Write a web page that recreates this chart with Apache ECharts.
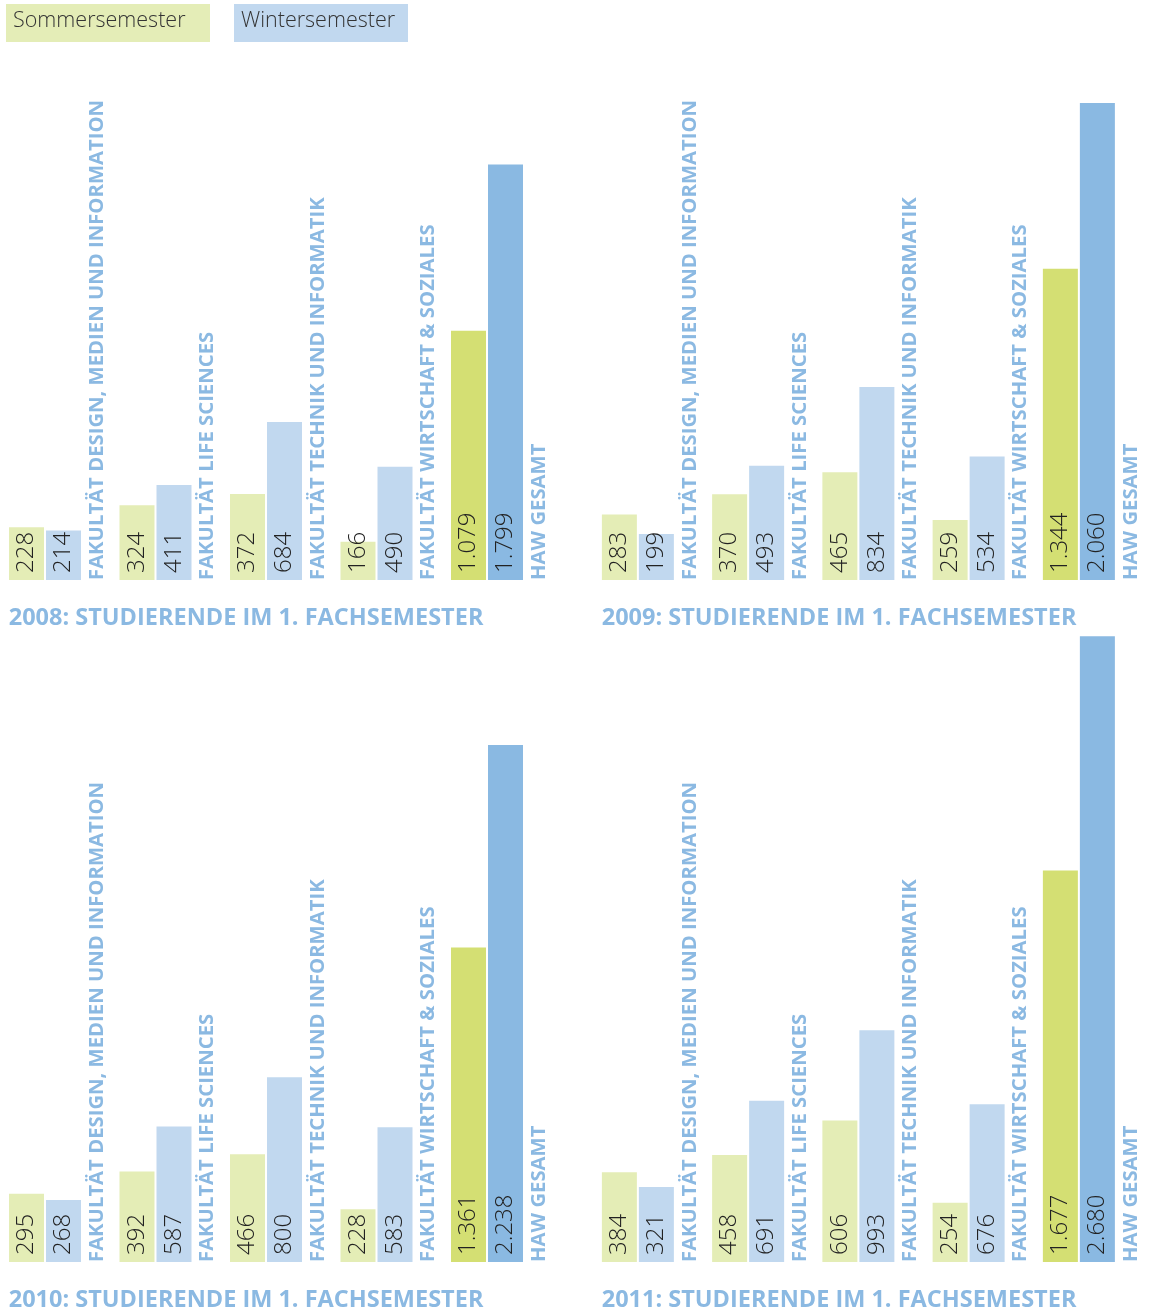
<!DOCTYPE html>
<html>
<head>
<meta charset="utf-8">
<script src="https://cdn.jsdelivr.net/npm/echarts@6/dist/echarts.min.js"></script>
<style>
html,body{margin:0;padding:0;background:#fff;}
#chart{width:1149px;height:1311px;}
</style>
</head>
<body>
<div id="chart"></div>
<script>
// ---- data ----
const categories = [
  'FAKULTÄT DESIGN, MEDIEN UND INFORMATION',
  'FAKULTÄT LIFE SCIENCES',
  'FAKULTÄT TECHNIK UND INFORMATIK',
  'FAKULTÄT WIRTSCHAFT & SOZIALES',
  'HAW GESAMT'
];
const years = ['2008', '2009', '2010', '2011'];
const sommer2008 = [228, 324, 372, 166, 1079];
const winter2008 = [214, 411, 684, 490, 1799];
const sommer2009 = [283, 370, 465, 259, 1344];
const winter2009 = [199, 493, 834, 534, 2060];
const sommer2010 = [295, 392, 466, 228, 1361];
const winter2010 = [268, 587, 800, 583, 2238];
const sommer2011 = [384, 458, 606, 254, 1677];
const winter2011 = [321, 691, 993, 676, 2680];
const legendNames = ['Sommersemester', 'Wintersemester'];
const titleSuffix = ': STUDIERENDE IM 1. FACHSEMESTER';

const sommerSets = [sommer2008, sommer2009, sommer2010, sommer2011];
const winterSets = [winter2008, winter2009, winter2010, winter2011];

// ---- styles / layout ----
const C_S = '#e4edb6', C_S_TOT = '#d4df73';
const C_W = '#c1d8ef', C_W_TOT = '#8ab9e2';
const C_LBL = '#8bb9e2';
const panels = [
  {left: 4.75, base: 580, scale: 0.231},
  {left: 597.75, base: 580, scale: 0.2315},
  {left: 4.75, base: 1262, scale: 0.231},
  {left: 597.75, base: 1262, scale: 0.2335}
];
const GRID_W = 552.5;
const FONT = '"Open Sans", "Noto Sans", sans-serif';

function fmt(v) {
  const s = String(v);
  return s.length > 3 ? s.slice(0, s.length - 3) + '.' + s.slice(s.length - 3) : s;
}

const grids = [], xAxes = [], yAxes = [], series = [], titles = [];
panels.forEach((p, i) => {
  const s = sommerSets[i], w = winterSets[i];
  const maxV = Math.max(...s, ...w);
  const h = maxV * p.scale;
  grids.push({left: p.left, top: p.base - h, width: GRID_W, height: h, containLabel: false});
  xAxes.push({gridIndex: i, type: 'category', data: categories, show: false, boundaryGap: true});
  yAxes.push({gridIndex: i, type: 'value', min: 0, max: maxV, show: false, splitLine: {show: false}});
  const valueLabel = {
    show: true, position: 'insideBottom', distance: 6, rotate: 90,
    align: 'left', verticalAlign: 'middle', offset: [1, 0],
    color: '#222', fontFamily: FONT, fontWeight: 300, fontSize: 24,
    formatter: (d) => fmt(d.value)
  };
  const last = categories.length - 1;
  series.push({
    type: 'bar', name: legendNames[0], xAxisIndex: i, yAxisIndex: i,
    barWidth: 35, barGap: '5.72%',
    data: s.map((v, k) => ({value: v, itemStyle: {color: k === last ? C_S_TOT : C_S}})),
    label: valueLabel, silent: true
  });
  series.push({
    type: 'bar', name: legendNames[1], xAxisIndex: i, yAxisIndex: i,
    barWidth: 35, barGap: '5.72%',
    data: w.map((v, k) => ({value: v, itemStyle: {color: k === last ? C_W_TOT : C_W}})),
    label: valueLabel, silent: true
  });
  series.push({
    type: 'bar', name: 'label', xAxisIndex: i, yAxisIndex: i,
    barWidth: 28, barGap: '5.72%',
    data: categories.map(() => 0),
    itemStyle: {color: 'rgba(0,0,0,0)'},
    label: {
      show: true, position: 'insideBottom', distance: 0, rotate: 90,
      align: 'left', verticalAlign: 'middle',
      color: C_LBL, fontFamily: FONT, fontWeight: 'bold', fontSize: 20.3,
      formatter: (d) => categories[d.dataIndex]
    },
    silent: true
  });
  titles.push({
    text: years[i] + titleSuffix,
    left: p.left + 4, top: p.base + 26, padding: 0,
    textStyle: {color: C_LBL, fontFamily: FONT, fontWeight: 'bold', fontSize: 23.5}
  });
});

const graphic = [
  {type: 'rect', left: 6, top: 4, shape: {width: 204, height: 38}, style: {fill: '#e4edb7'}},
  {type: 'text', left: 13, top: 10, style: {text: legendNames[0], fill: '#333', font: '300 21.5px ' + FONT}},
  {type: 'rect', left: 234, top: 4, shape: {width: 174, height: 38}, style: {fill: '#c1d8ef'}},
  {type: 'text', left: 241, top: 10, style: {text: legendNames[1], fill: '#333', font: '300 21.5px ' + FONT}}
];

const chart = echarts.init(document.getElementById('chart'), null, {renderer: 'canvas'});
chart.setOption({
  animation: false,
  backgroundColor: '#fff',
  title: titles,
  grid: grids,
  xAxis: xAxes,
  yAxis: yAxes,
  series: series,
  graphic: graphic
});
</script>
</body>
</html>
